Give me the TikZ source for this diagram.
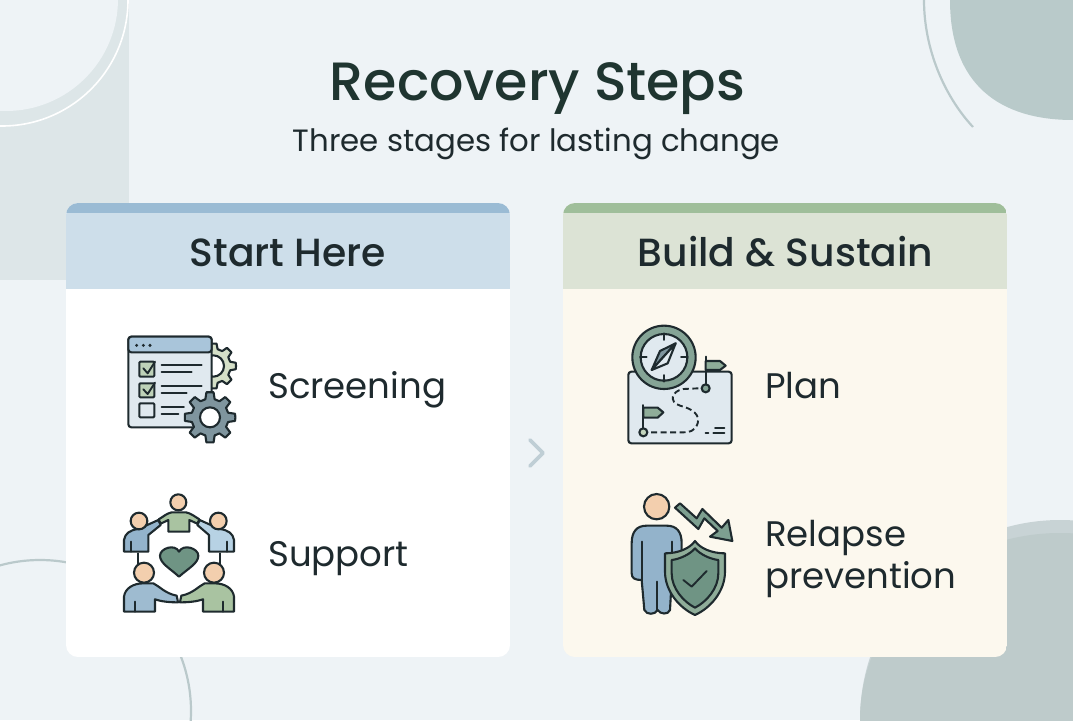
\documentclass[tikz,border=0pt]{standalone}
\usepackage{fontspec}
\setmainfont{Poppins}
\newfontfamily\medfont{Poppins Medium}
\definecolor{bg}{HTML}{EEF3F6}
\definecolor{decoa}{HTML}{DDE6E8}
\definecolor{decob}{HTML}{B9CACA}
\definecolor{decoc}{HTML}{C8D3D5}
\definecolor{decod}{HTML}{BECBCB}
\definecolor{arcc}{HTML}{BAC9CB}
\definecolor{ink}{HTML}{1E2A2E}
\definecolor{titlec}{HTML}{1F3530}
\definecolor{blueband}{HTML}{9ABBD4}
\definecolor{bluehead}{HTML}{CDDEEA}
\definecolor{greenband}{HTML}{9FBE9A}
\definecolor{greenhead}{HTML}{DCE3D5}
\definecolor{cream}{HTML}{FCF8EE}
\definecolor{skin}{HTML}{F3CFAE}
\definecolor{iblue}{HTML}{93B3CB}
\definecolor{lblue}{HTML}{B7D2E4}
\definecolor{igreen}{HTML}{A9C3A1}
\definecolor{dgreen}{HTML}{6F9484}
\definecolor{mgreen}{HTML}{8FAD99}
\definecolor{paneb}{HTML}{E0E9EF}
\definecolor{steel}{HTML}{7F959E}
\definecolor{chev}{HTML}{BFCED5}
\definecolor{lgear}{HTML}{D5E0C8}
\tikzset{
  ic/.style={draw=ink,line width=2.1pt,line join=round,line cap=round},
  thin ic/.style={draw=ink,line width=1.9pt,line cap=round,line join=round},
  icon/.style={x=0.33333pt,y=-0.33333pt},
  heading/.style={font=\medfont\fontsize{39.3}{44}\selectfont,text=ink,anchor=base},
  item/.style={font=\fontsize{35.5}{40}\selectfont,text=ink,anchor=base west,inner sep=0pt},
}
\newcommand{\gearshape}[6]{% cx cy rout rin fill teeth
  \path[ic,fill=#5] (#1,#2) ++(0:#3)
  \foreach \k in {1,...,#6}{
    -- ($(#1,#2)+({(\k-1)*360/#6+360/#6*0.18}:#3)$)
    -- ($(#1,#2)+({(\k-1)*360/#6+360/#6*0.32}:#4)$)
    -- ($(#1,#2)+({(\k-1)*360/#6+360/#6*0.68}:#4)$)
    -- ($(#1,#2)+({(\k-1)*360/#6+360/#6*0.82}:#3)$)
  } -- cycle;
}
\usetikzlibrary{calc}
\begin{document}
\begin{tikzpicture}[x=1pt,y=-1pt]
\useasboundingbox (0,0) rectangle (1073,720);
\fill[bg] (0,0) rectangle (1073,720);
% corner decoration
\begin{scope}
\clip (0,0) rectangle (1073,720);
\fill[decoa] (0,0) rectangle (129,280);
\fill[bg] (6,-1) circle[radius=112];
\draw[white,line width=1.6pt] (2,0) circle[radius=126];
\fill[decob] (950,0) .. controls (950,85) and (1000,120) .. (1073,120) -- (1073,0) -- cycle;
\draw[arcc,line width=2.2pt] (924,0) .. controls (924,50) and (945,97) .. (973,127);
\fill[decoc] (1060,720) circle[radius=200];
\fill[decod] (1060,720) ellipse[x radius=200,y radius=187];
\draw[arcc,line width=2.2pt] (40,711) circle[radius=151];
\end{scope}
% cards
\begin{scope}
\clip[rounded corners=12pt] (66,203) rectangle (510,657);
\fill[white] (66,203) rectangle (510,657);
\fill[bluehead] (66,213) rectangle (510,289);
\fill[blueband] (66,203) rectangle (510,213);
\end{scope}
\begin{scope}
\clip[rounded corners=12pt] (563,203) rectangle (1007,657);
\fill[cream] (563,203) rectangle (1007,657);
\fill[greenhead] (563,213) rectangle (1007,289);
\fill[greenband] (563,203) rectangle (1007,213);
\end{scope}
\draw[draw=chev,line width=3.6pt,line cap=round,line join=round] (530,440) -- (543,453) -- (530,466);
% texts
\node[font=\medfont\fontsize{53.9}{60}\selectfont,text=titlec,anchor=base] (title) at (537.5,100) {Recovery Steps};
\node[font=\fontsize{30.8}{36}\selectfont,text=ink,anchor=base] (subtitle) at (536.5,151) {Three stages for lasting change};
\node[heading] (headL) at (288,266) {Start Here};
\node[heading] (headR) at (785.5,266) {Build \& Sustain};
\node[item] (screening) at (268,398) {Screening};
\node[item] (support) at (268,566) {Support};
\node[item] (plan) at (765,398) {Plan};
\node[item] (relapse) at (765,546) {Relapse};
\node[item] (prevention) at (765,588) {prevention};
% icon: screening
\begin{scope}[shift={(110,320)},icon]
\gearshape{310}{138}{68}{52}{lgear}{8}
\path[ic,fill=white] (310,138) circle[radius=32];
\path[ic,fill=paneb,rounded corners=3pt] (55,50) rectangle (305,322);
\path[ic,fill=blueband!85!white,rounded corners=3pt] (55,97) -- (55,50) -- (305,50) -- (305,97) -- cycle;
\fill[ink] (80,76) circle[radius=5] (100,76) circle[radius=5] (120,76) circle[radius=5];
\path[ic,fill=igreen!75!white,rounded corners=1pt] (88,125) rectangle (133,170);
\path[ic,fill=igreen!75!white,rounded corners=1pt] (88,190) rectangle (133,232);
\path[ic,fill=paneb,rounded corners=1pt] (88,250) rectangle (133,292);
\draw[thin ic] (100,145) -- (113,160) -- (135,125);
\draw[thin ic] (100,208) -- (113,222) -- (135,188);
\draw[thin ic] (155,135) -- (275,135) (155,157) -- (245,157) (155,198) -- (275,198) (155,218) -- (230,218) (155,260) -- (222,260) (155,282) -- (205,282);
\gearshape{300}{292}{76}{56}{steel}{8}
\path[ic,fill=white] (300,292) circle[radius=30];
\end{scope}
% icon: support
\begin{scope}[shift={(110,485)},icon]
\draw[thin ic] (85,205) -- (85,240) (330,205) -- (330,240);
\path[ic,fill=igreen] (146,103) .. controls (160,95) and (170,85) .. (185,82) -- (228,82) .. controls (243,85) and (255,95) .. (268,103) -- (262,116) -- (238,105) -- (238,140) -- (175,140) -- (175,105) -- (152,116) -- cycle;
\path[ic,fill=iblue] (42,200) -- (42,165) .. controls (45,145) and (60,135) .. (85,132) -- (145,105) -- (152,120) -- (115,150) -- (115,200) -- cycle;
\draw[thin ic] (62,170) -- (62,200);
\path[ic,fill=lblue] (372,200) -- (372,165) .. controls (369,145) and (354,135) .. (329,132) -- (269,105) -- (262,120) -- (297,150) -- (297,200) -- cycle;
\draw[thin ic] (350,170) -- (350,200);
\path[ic,fill=skin] (205,52) circle[radius=24] (87,108) circle[radius=25] (325,108) circle[radius=25];
\path[ic,fill=iblue!90!white] (42,380) -- (42,335) .. controls (45,310) and (70,295) .. (100,295) -- (130,295) .. controls (150,305) and (165,325) .. (200,332) -- (204,352) .. controls (180,352) and (155,350) .. (135,343) -- (135,380) -- cycle;
\draw[thin ic] (75,350) -- (75,380);
\path[ic,fill=igreen] (372,380) -- (372,335) .. controls (369,310) and (344,295) .. (314,295) -- (284,295) .. controls (264,305) and (249,325) .. (214,332) -- (210,352) .. controls (234,352) and (259,350) .. (279,343) -- (279,380) -- cycle;
\draw[thin ic] (340,350) -- (340,380);
\path[ic,fill=skin] (102,263) circle[radius=30] (312,263) circle[radius=30];
\path[ic,fill=dgreen] (207,275) .. controls (180,250) and (150,235) .. (150,212) .. controls (150,190) and (195,175) .. (207,200) .. controls (220,175) and (265,190) .. (265,212) .. controls (265,235) and (235,250) .. (207,275) -- cycle;
\end{scope}
% icon: plan
\begin{scope}[shift={(615,315)},icon]
\path[ic,fill=paneb,rounded corners=3pt] (40,170) rectangle (350,385);
\draw[thin ic,dash pattern=on 6pt off 3.5pt,line cap=butt] (250,220) -- (205,222) .. controls (170,228) and (160,260) .. (195,272) .. controls (235,282) and (255,300) .. (248,325) .. controls (240,350) and (220,352) .. (205,352) -- (100,352);
\path[ic,fill=dgreen!85!white] (147,127) circle[radius=95];
\path[ic,fill=paneb] (147,127) circle[radius=70];
\draw[thin ic] (147,55) -- (147,75) (147,180) -- (147,200) (75,127) -- (95,127) (198,127) -- (218,127);
\path[ic,fill=steel] (182,85) -- (135,108) -- (110,165) -- cycle;
\path[ic,fill=paneb] (182,85) -- (158,145) -- (110,165) -- cycle;
\draw[thin ic] (272,125) -- (272,210);
\path[ic,fill=mgreen] (272,138) -- (315,138) -- (332,152) -- (315,165) -- (272,165) -- cycle;
\path[ic,fill=dgreen!85!white] (272,220) circle[radius=12];
\draw[thin ic] (85,270) -- (85,340);
\path[ic,fill=mgreen] (85,278) -- (128,278) -- (145,292) -- (128,308) -- (85,308) -- cycle;
\path[ic,fill=igreen!70!white] (85,352) circle[radius=12];
\draw[thin ic] (300,340) -- (328,340) (272,355) -- (280,355) (295,355) -- (328,355);
\end{scope}
% icon: relapse prevention
\begin{scope}[shift={(615,485)},icon]
\path[ic,fill=dgreen!90!white] (180,68) -- (195,55) -- (245,100) -- (262,72) -- (320,128) -- (340,105) -- (352,168) -- (285,155) -- (308,138) -- (268,100) -- (250,132) -- cycle;
\path[ic,fill=iblue] (50,175) .. controls (50,140) and (65,122) .. (95,122) -- (155,122) .. controls (185,122) and (200,140) .. (200,175) -- (200,270) -- (170,285) -- (165,375) .. controls (160,390) and (135,388) .. (128,375) .. controls (120,390) and (95,390) .. (88,375) -- (80,285) .. controls (60,285) and (50,280) .. (50,265) -- cycle;
\draw[thin ic] (80,170) -- (80,285) (170,170) -- (170,210) (127,290) -- (127,375);
\path[ic,fill=skin] (125,65) circle[radius=38];
\path[ic,fill=mgreen] (240,168) .. controls (225,190) and (190,205) .. (150,205) -- (150,260) .. controls (150,320) and (195,370) .. (240,390) .. controls (285,370) and (330,320) .. (330,260) -- (330,205) .. controls (290,205) and (255,190) .. (240,168) -- cycle;
\path[ic,fill=dgreen] (240,190) .. controls (225,208) and (195,222) .. (170,225) -- (170,265) .. controls (170,310) and (205,350) .. (240,368) .. controls (275,350) and (310,310) .. (310,265) -- (310,225) .. controls (285,222) and (255,208) .. (240,190) -- cycle;
\draw[thin ic] (205,285) -- (230,305) -- (275,258);
\end{scope}
\end{tikzpicture}
\end{document}
